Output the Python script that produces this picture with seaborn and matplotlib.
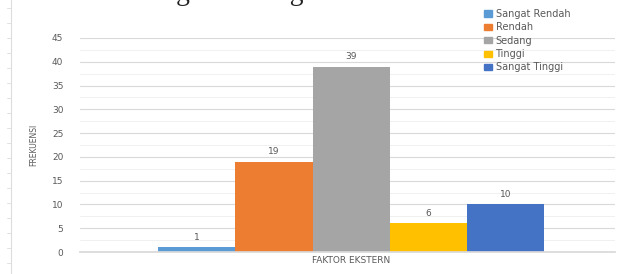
import matplotlib
matplotlib.use('Agg')
import matplotlib.pyplot as plt
import matplotlib.lines as mlines
import pandas as pd
import seaborn as sns

# ── Data ───────────────────────────────────────────────────────────────────────
kategori = ['Sangat Rendah', 'Rendah', 'Sedang', 'Tinggi', 'Sangat Tinggi']
frekuensi = [1, 19, 39, 6, 10]
warna = ['#5B9BD5', '#ED7D31', '#A5A5A5', '#FFC000', '#4472C4']
y_ticks = [0, 5, 10, 15, 20, 25, 30, 35, 40, 45]

df = pd.DataFrame({'faktor': ['FAKTOR EKSTERN'] * len(kategori),
                   'kategori': kategori,
                   'frekuensi': frekuensi})

# ── Figure ─────────────────────────────────────────────────────────────────────
sns.set_theme(style='white')
plt.rcParams['font.family'] = ['DejaVu Sans']

fig = plt.figure(figsize=(6.3, 2.74), dpi=100)
ax = fig.add_axes([80 / 630, 1 - 252 / 274, 535 / 630, 214 / 274])

sns.barplot(data=df, x='faktor', y='frekuensi', hue='kategori',
            hue_order=kategori, palette=warna, width=0.8,
            saturation=1, linewidth=0, ax=ax, legend=False)

for cont in ax.containers:
    ax.bar_label(cont, fmt='%d', padding=4, fontsize=6.5, color='#595959')

ax.set_ylim(0, 45)
ax.set_yticks(y_ticks)
ax.set_yticks([v + 2.5 for v in y_ticks[:-1]], minor=True)
ax.set_xlim(-0.562, 0.547)
ax.grid(axis='y', which='major', color='#D9D9D9', linewidth=0.8)
ax.grid(axis='y', which='minor', color='#EEEEEE', linewidth=0.6)
ax.set_axisbelow(True)
ax.tick_params(axis='y', which='both', length=0, labelsize=6.5,
               labelcolor='#595959', pad=12)
ax.tick_params(axis='x', length=0, labelsize=6.5, labelcolor='#595959', pad=3)
for s in ['top', 'right', 'left']:
    ax.spines[s].set_visible(False)
ax.spines['bottom'].set_color('#D9D9D9')
ax.set_xlabel('')
ax.set_ylabel('FREKUENSI', fontsize=5.5, color='#595959', labelpad=10)

# legend
handles = [plt.Rectangle((0, 0), 1, 1, color=c) for c in warna]
fig.legend(handles, kategori, loc='upper left', bbox_to_anchor=(479 / 630, 1 - 4 / 274),
           frameon=False, fontsize=7, handlelength=0.8, handleheight=0.6,
           handletextpad=0.4, labelspacing=0.35, borderpad=0,
           labelcolor='#595959')

# page text cut off at top
fig.text(66 / 630, 1 - 0.5 / 274, 'ntuk histogram sebagai berikut.',
         family=['Liberation Serif'], fontsize=20, color='#222222',
         ha='left', va='baseline')

# page border on the left
fig.add_artist(mlines.Line2D([11 / 630, 11 / 630], [0, 1], color='#DDDDDD', lw=0.8))
for yy in range(8, 274, 15):
    fig.add_artist(mlines.Line2D([7 / 630, 11 / 630], [1 - yy / 274, 1 - yy / 274],
                                 color='#DDDDDD', lw=0.6))

plt.savefig('out.png', dpi=100)
plt.close()
